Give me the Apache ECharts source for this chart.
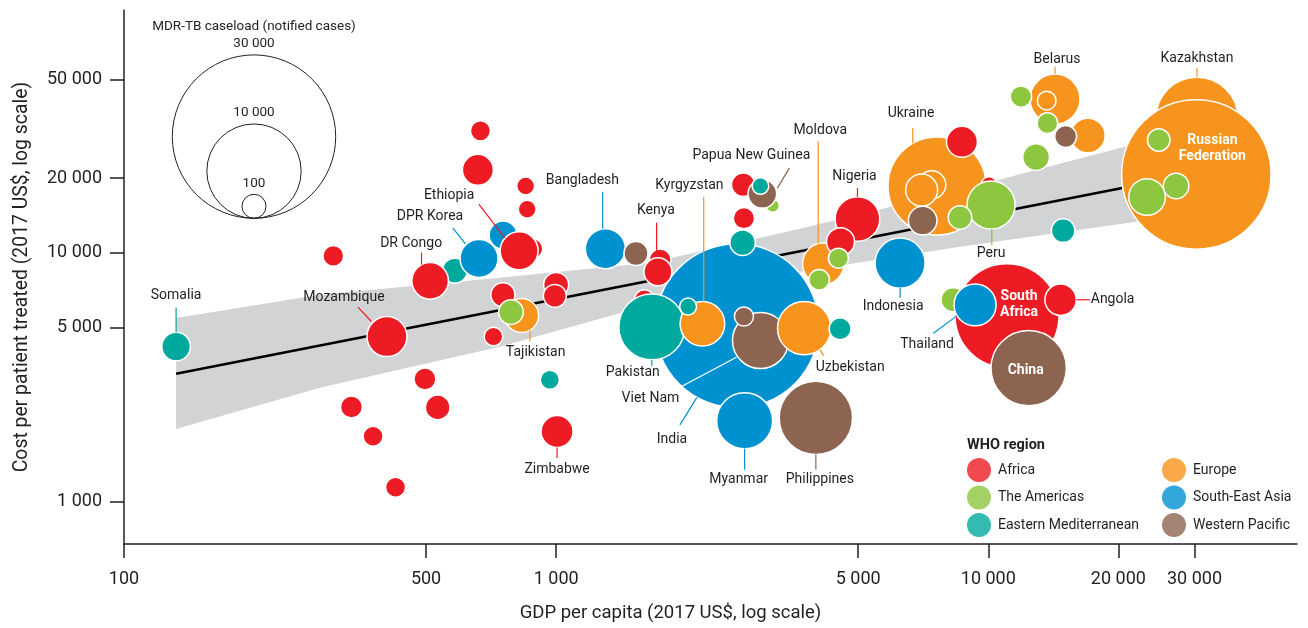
<!DOCTYPE html>
<html>
<head>
<meta charset="utf-8">
<script src="https://cdn.jsdelivr.net/npm/echarts@6/dist/echarts.min.js"></script>
<style>
html, body { margin: 0; padding: 0; background: #fff; }
#chart { width: 1308px; height: 628px; }
</style>
</head>
<body>
<div id="chart"></div>
<script>
// MDR-TB: cost per patient treated vs GDP per capita, bubble = caseload
const countries = [
  'Kazakhstan', 'Russian Federation', 'India', 'South Africa', 'Ukraine', 'China', 'Philippines', '', 'Pakistan', 'Viet Nam',
  'Myanmar', 'Uzbekistan', 'Indonesia', '', 'Peru', 'Belarus', 'Kyrgyzstan', 'Nigeria', '', 'Thailand',
  'Moldova', 'Bangladesh', 'Mozambique', '', 'DPR Korea', '', '', 'Ethiopia', 'DR Congo', '',
  'Tajikistan', '', 'Zimbabwe', '', '', '', '', 'Angola', 'Somalia', '',
  '', 'Kenya', '', '', '', '', '', '', '', '',
  '', '', '', '', '', 'Papua New Guinea', '', '', '', '',
  '', '', '', '', '', '', '', '', '', '',
  '', '', '', '', '', '', '', '', ''
];
const regions = [
  'EUR', 'EUR', 'SEA', 'AFR', 'EUR', 'WPR', 'WPR', 'AFR', 'EMR', 'WPR',
  'SEA', 'EUR', 'SEA', 'AFR', 'AMR', 'EUR', 'EUR', 'AFR', 'AMR', 'SEA',
  'EUR', 'SEA', 'AFR', 'EMR', 'SEA', 'SEA', 'AFR', 'AFR', 'AFR', 'AMR',
  'EUR', 'EUR', 'AFR', 'EUR', 'EUR', 'AFR', 'AFR', 'AFR', 'EMR', 'WPR',
  'AFR', 'AFR', 'AFR', 'AMR', 'EMR', 'AMR', 'AFR', 'AFR', 'AFR', 'AMR',
  'AFR', 'WPR', 'AMR', 'AMR', 'AFR', 'WPR', 'EMR', 'EMR', 'AMR', 'WPR',
  'EMR', 'AFR', 'AFR', 'AMR', 'AFR', 'AMR', 'AMR', 'AFR', 'AFR', 'AFR',
  'AFR', 'AMR', 'EMR', 'WPR', 'AFR', 'EUR', 'AFR', 'AFR', 'EMR'
];
const gdp = [
  30400, 30300, 2620, 11050, 7610, 12400, 3990, 1600, 1665, 2970,
  2730, 3750, 6250, 10040, 10150, 14270, 2180, 4980, 8290, 9320,
  4150, 1300, 406, 583, 663, 754, 883, 821, 511, 23300,
  832, 17000, 1005, 7400, 7010, 8690, 659, 14700, 132, 7050,
  1740, 1720, 4550, 12900, 2700, 27200, 1000, 993, 753, 786,
  532, 1530, 8600, 3170, 2710, 3000, 2970, 14900, 24800, 15100,
  4540, 497, 336, 11900, 2720, 4060, 13700, 305, 668, 377,
  425, 4500, 967, 2720, 716, 13650, 850, 857, 2020
];
const cost = [
  34800, 20700, 5090, 5590, 18600, 3440, 2170, 6480, 5040, 4440,
  2110, 4980, 9100, 18800, 15600, 41600, 5190, 13700, 6480, 6180,
  9040, 10400, 4610, 8490, 9500, 11800, 10400, 10200, 7720, 16800,
  5600, 29700, 1910, 18800, 17900, 28000, 21600, 6480, 4200, 13500,
  9380, 8400, 11100, 24300, 11000, 18600, 7440, 6720, 6790, 5780,
  2390, 9950, 13900, 15500, 18800, 17300, 18600, 12300, 28500, 29400,
  4950, 3110, 2400, 42600, 13800, 7800, 33300, 9730, 31000, 1830,
  1140, 9530, 3090, 5550, 4610, 41000, 18600, 15000, 6090
];
const cases = [
  7600, 25100, 30200, 12150, 10800, 6390, 6050, 450, 4890, 3520,
  3520, 3200, 2810, 290, 2590, 2810, 2240, 2240, 650, 1980,
  1930, 1800, 1800, 700, 1620, 880, 450, 1620, 1510, 1510,
  1300, 1350, 1150, 880, 1150, 1080, 1080, 1110, 920, 920,
  540, 880, 880, 800, 730, 730, 700, 590, 650, 680,
  680, 650, 620, 200, 620, 920, 310, 620, 570, 540,
  540, 540, 540, 510, 510, 480, 480, 480, 450, 450,
  450, 450, 410, 410, 390, 390, 360, 360, 320
];

const regionCodes = ['AFR', 'AMR', 'EMR', 'EUR', 'SEA', 'WPR'];
const regionNames = ['Africa', 'The Americas', 'Eastern Mediterranean', 'Europe', 'South-East Asia', 'Western Pacific'];
const regionColors = ['#ED1C24', '#8DC63F', '#00A99D', '#F7941D', '#0091D0', '#8C6450'];

// fitted line and its confidence band
const fitGdp = [132, 23700];
const fitCost = [3264, 19200];
const bandGdp = [132, 284, 741, 1648, 3665, 8600, 23700];
const bandLow = [1956, 2867, 4192, 6183, 8395, 10580, 13600];
const bandHigh = [5467, 6785, 7940, 9124, 12500, 17940, 28500];

const xTicks = [100, 500, 1000, 5000, 10000, 20000, 30000];
const yTicks = [1000, 5000, 10000, 20000, 50000];
const xRange = [100, 51800];
const yRange = [674, 95000];
const keyCases = [30000, 10000, 100];

// label layout in px from bubble centre: [text dx, text dy, leader start dx, dy, leader end dx, dy]
const labelSpec = {
  'Somalia': [0, -51, 0, -39, 0, -14.4],
  'Mozambique': [-43, -39, -29, -29.4, -15.6, -15],
  'DR Congo': [-19, -37, -8.6, -28.3, -8.6, -16.2],
  'DPR Korea': [-49, -42, -26.3, -30.7, -13.6, -14.7],
  'Ethiopia': [-70, -55, -40.3, -46.7, -14.3, -12.7],
  'Bangladesh': [-23, -68, -2.7, -57, -2.7, -20],
  'Kenya': [-2, -61, -1.3, -49.3, -1.3, -20.3],
  'Tajikistan': [14, 37, 8.3, 26, 8.3, 14.8],
  'Zimbabwe': [0, 38, 0, 26.3, 0, 16],
  'Pakistan': [-19, 46, 0, 39, 0, 33],
  'Viet Nam': [-110, 58, -79, 46, -24, 16.6],
  'India': [-65, 114, -57, 99, -40, 71.5],
  'Kyrgyzstan': [-13, -138, 1.3, -127, 1.3, -22.3],
  'Uzbekistan': [46, 39, 19.3, 27.7, 16, 21.7],
  'Myanmar': [-6, 59, 0, 49, 0, 28],
  'Philippines': [4, 62, 0, 51.7, 0, 36.7],
  'Indonesia': [-7, 43, 0, 34.7, 0, 25],
  'Papua New Guinea': [-11, -38, 27, -25.7, 15, -5.7],
  'Moldova': [-3, -133, -5, -122.3, -5, -20.1],
  'Nigeria': [-3, -42, 0, -31, 0, -22.3],
  'Ukraine': [-26, -72, -24.3, -57.7, -24.3, -42.5],
  'Belarus': [2, -40, 0, -32.3, 0, -25],
  'Kazakhstan': [0, -60, 0, -50.5, 0, -41.2],
  'Peru': [0, 49, 0.7, 40, 0.7, 24],
  'Thailand': [-48, 40, -41.7, 28.3, -18.3, 11],
  'Angola': [52, 0, 29.3, 0, 15.7, 0],
  'Russian Federation': [16, -26], 'South Africa': [12, -11], 'China': [-3, 2]
};
const insideText = { 'Russian Federation': 'Russian\nFederation', 'South Africa': 'South\nAfrica', 'China': 'China' };
const leaderColor = { 'Viet Nam': '#fff' }; // runs across the India bubble

const FONT = 'Roboto, "Noto Sans", sans-serif';
const INK = '#231F20';
const lg = Math.log10;
const fmt = v => String(Math.round(v)).replace(/\B(?=(\d{3})+(?!\d))/g, ' ');
const sizeOf = n => 2 * 81.7 * Math.sqrt(n / 30000);
const colorOf = code => regionColors[regionCodes.indexOf(code)];

const bubbleData = countries.map((name, i) => ({
  name: name,
  value: [lg(gdp[i]), lg(cost[i]), cases[i]],
  itemStyle: { color: colorOf(regions[i]) }
}));
const labelData = [];
countries.forEach((name, i) => {
  if (labelSpec[name]) labelData.push([lg(gdp[i]), lg(cost[i]), i]);
});

function renderLabel(params, api) {
  const i = api.value(2);
  const name = countries[i];
  const s = labelSpec[name];
  const c = api.coord([api.value(0), api.value(1)]);
  const children = [];
  if (insideText[name]) {
    children.push({ type: 'text', x: c[0] + s[0], y: c[1] + s[1],
      style: { text: insideText[name], align: 'center', verticalAlign: 'middle', fill: '#fff',
        fontSize: 14, fontWeight: 'bold', lineHeight: 16, fontFamily: FONT } });
  } else {
    children.push({ type: 'line',
      shape: { x1: c[0] + s[2], y1: c[1] + s[3], x2: c[0] + s[4], y2: c[1] + s[5] },
      style: { stroke: leaderColor[name] || colorOf(regions[i]), lineWidth: 1.2 } });
    children.push({ type: 'text', x: c[0] + s[0], y: c[1] + s[1],
      style: { text: name, align: 'center', verticalAlign: 'middle', fill: INK, fontSize: 14, fontFamily: FONT } });
  }
  return { type: 'group', children: children };
}

const chart = echarts.init(document.getElementById('chart'));

const keyGraphic = [];
const keyCx = 254, keyBottom = 218.3;
keyCases.forEach(n => {
  const r = Math.max(12, sizeOf(n) / 2);
  keyGraphic.push({ type: 'circle', shape: { cx: keyCx, cy: keyBottom - r, r: r },
    style: { fill: 'none', stroke: INK, lineWidth: 1 }, silent: true });
  keyGraphic.push({ type: 'text', x: keyCx, y: keyBottom - 2 * r - 11,
    style: { text: fmt(n), align: 'center', verticalAlign: 'middle', fontSize: 13.5, fontFamily: FONT, fill: INK } });
});
keyGraphic.push({ type: 'text', x: keyCx, y: 26.7,
  style: { text: 'MDR-TB caseload (notified cases)', align: 'center', verticalAlign: 'middle',
    fontSize: 13.5, fontFamily: FONT, fill: INK } });
keyGraphic.push({ type: 'text', x: 967, y: 445,
  style: { text: 'WHO region', align: 'left', verticalAlign: 'middle',
    fontSize: 14.5, fontWeight: 'bold', fontFamily: FONT, fill: INK } });

const legendBase = {
  orient: 'vertical', top: 458, padding: 0, itemWidth: 24, itemHeight: 24, itemGap: 3.5,
  icon: 'circle', selectedMode: false,
  textStyle: { fontSize: 14, fontFamily: FONT, color: INK, padding: [0, 0, 0, 2] }
};

const option = {
  animation: false,
  textStyle: { fontFamily: FONT },
  grid: { left: 124, right: 11, top: 10, bottom: 84 },
  xAxis: {
    type: 'value', min: lg(xRange[0]), max: lg(xRange[1]),
    name: 'GDP per capita (2017 US$, log scale)', nameLocation: 'middle', nameGap: 60,
    nameTextStyle: { fontSize: 18.5, color: INK, padding: [0, 80, 0, 0] },
    axisLine: { onZero: false, lineStyle: { color: INK, width: 1.5 } },
    axisTick: { show: true, length: 14, customValues: xTicks.map(lg), lineStyle: { color: INK, width: 1.5 } },
    axisLabel: { customValues: xTicks.map(lg), formatter: v => fmt(Math.pow(10, v)),
      fontSize: 18, color: INK, margin: 26 },
    splitLine: { show: false }
  },
  yAxis: {
    type: 'value', min: lg(yRange[0]), max: lg(yRange[1]),
    name: 'Cost per patient treated (2017 US$, log scale)', nameLocation: 'middle', nameGap: 92,
    nameTextStyle: { fontSize: 19.4, color: INK },
    axisLine: { onZero: false, lineStyle: { color: INK, width: 1.5 } },
    axisTick: { show: true, length: 14, customValues: yTicks.map(lg), lineStyle: { color: INK, width: 1.5 } },
    axisLabel: { customValues: yTicks.map(lg), formatter: v => fmt(Math.pow(10, v)),
      fontSize: 18, color: INK, margin: 22 },
    splitLine: { show: false }
  },
  legend: [
    Object.assign({ left: 967, data: regionNames.slice(0, 3) }, legendBase),
    Object.assign({ left: 1162, data: regionNames.slice(3) }, legendBase)
  ],
  graphic: keyGraphic,
  series: [
    {
      type: 'custom', silent: true, clip: false, z: 1,
      data: [[lg(bandGdp[0]), lg(bandLow[0])]],
      renderItem: (params, api) => {
        const pts = [];
        bandGdp.forEach((g, i) => pts.push(api.coord([lg(g), lg(bandHigh[i])])));
        for (let i = bandGdp.length - 1; i >= 0; i--) pts.push(api.coord([lg(bandGdp[i]), lg(bandLow[i])]));
        return { type: 'polygon', shape: { points: pts }, style: { fill: '#D1D3D4' } };
      }
    },
    {
      type: 'line', silent: true, symbol: 'none', z: 1.5,
      data: fitGdp.map((g, i) => [lg(g), lg(fitCost[i])]),
      lineStyle: { color: '#000', width: 2.6 }
    },
    {
      type: 'scatter', name: 'bubbles', z: 2,
      data: bubbleData,
      symbolSize: v => sizeOf(v[2]),
      itemStyle: { borderColor: '#fff', borderWidth: 1.5, opacity: 1 },
      emphasis: { disabled: true }
    },
    {
      type: 'custom', name: 'labels', silent: true, clip: false, z: 5,
      data: labelData,
      renderItem: renderLabel
    }
  ].concat(regionNames.map((n, i) => ({
    type: 'scatter', name: n, data: [], itemStyle: { color: regionColors[i] }
  })))
};

chart.setOption(option);
</script>
</body>
</html>
